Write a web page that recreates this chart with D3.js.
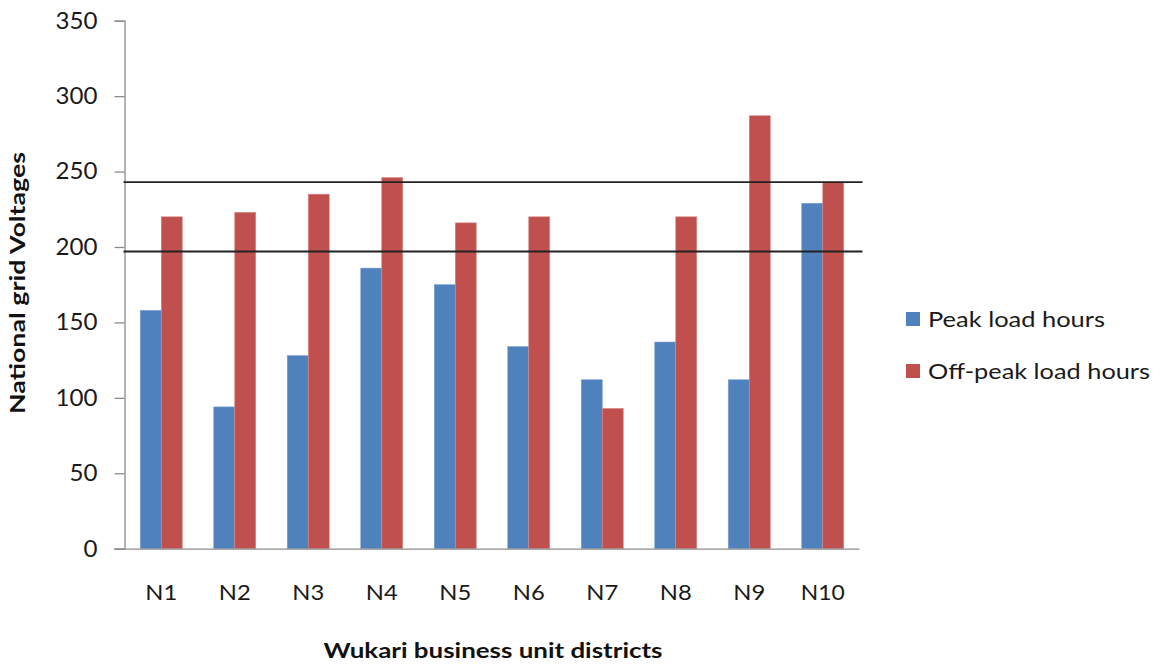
<!DOCTYPE html>
<html>
<head>
<meta charset="utf-8">
<script src="https://cdn.jsdelivr.net/npm/d3@7"></script>
<style>
  html, body { margin: 0; padding: 0; background: #fff; }
  svg { display: block; font-family: Lato, "Open Sans", sans-serif; }
</style>
</head>
<body>
<svg id="chart" width="1162" height="664"></svg>
<script>
// District categories and measured grid voltages
const districts = ["N1", "N2", "N3", "N4", "N5", "N6", "N7", "N8", "N9", "N10"];
const peakLoad = [158, 94, 128, 186, 175, 134, 112, 137, 112, 229];
const offPeakLoad = [220, 223, 235, 246, 216, 220, 93, 220, 287, 243];
const seriesNames = ["Peak load hours", "Off-peak load hours"];
const seriesColors = ["#4F81BD", "#C0504D"];
const yTicks = [0, 50, 100, 150, 200, 250, 300, 350];
// Upper and lower voltage limits drawn as horizontal lines
const limitLines = [243, 197];

const svg = d3.select("#chart");
const plot = { left: 124.5, right: 859.5, top: 20.7, bottom: 548.7 };

const x = d3.scaleBand().domain(districts).range([plot.left, plot.right]).paddingInner(0).paddingOuter(0);
const y = d3.scaleLinear().domain([0, 350]).range([plot.bottom, plot.top]);

// Bars: two per category, Excel-style gap width 150%
const barW = x.bandwidth() / 3.5;
const rows = districts.map((d, i) => ({ d, vals: [peakLoad[i], offPeakLoad[i]] }));

const groups = svg.append("g").selectAll("g").data(rows).join("g");
groups.selectAll("rect")
  .data(r => r.vals.map((v, s) => ({ d: r.d, v, s })))
  .join("rect")
  .attr("x", o => x(o.d) + x.bandwidth() / 2 - barW + o.s * barW)
  .attr("y", o => y(o.v))
  .attr("width", barW)
  .attr("height", o => y(0) - y(o.v))
  .attr("fill", o => seriesColors[o.s])
  .attr("stroke", o => o.s === 0 ? "#7FA3D3" : "#D88A88")
  .attr("stroke-width", 0.6);

// Y axis
const yAxis = d3.axisLeft(y).tickValues(yTicks).tickSize(10).tickPadding(17).tickFormat(d3.format("d"));
const gy = svg.append("g").attr("transform", `translate(${plot.left},0)`).call(yAxis);
gy.select(".domain").attr("stroke", "#8C8C8C").attr("stroke-width", 1.3);
gy.selectAll(".tick line").attr("stroke", "#8C8C8C").attr("stroke-width", 1.3);
gy.selectAll(".tick text").attr("fill", "#1a1a1a").style("font-size", "23px").style("font-family", "Lato, sans-serif")
  .attr("text-anchor", "end")
  .attr("textLength", d => String(d).length * 14).attr("lengthAdjust", "spacingAndGlyphs");

// X axis
const xAxis = d3.axisBottom(x).tickSize(0).tickPadding(36);
const gx = svg.append("g").attr("transform", `translate(0,${plot.bottom})`).call(xAxis);
gx.select(".domain").attr("stroke", "#8C8C8C").attr("stroke-width", 1.3).attr("d", `M${plot.left - 10},0.5H${plot.right}`);
gx.selectAll(".tick text").attr("fill", "#1a1a1a").style("font-size", "22px").style("font-family", "Lato, sans-serif")
  .attr("textLength", d => d.length === 2 ? 32 : 44).attr("lengthAdjust", "spacingAndGlyphs");

// Voltage limit lines
svg.append("g").selectAll("line").data(limitLines).join("line")
  .attr("x1", plot.left - 1).attr("x2", plot.right + 3)
  .attr("y1", d => y(d)).attr("y2", d => y(d))
  .attr("stroke", "#222").attr("stroke-width", 1.8);

// Axis titles
svg.append("text")
  .attr("x", 493).attr("y", 658)
  .attr("text-anchor", "middle")
  .attr("font-weight", "bold").attr("font-size", 20).attr("fill", "#111")
  .attr("textLength", 339).attr("lengthAdjust", "spacingAndGlyphs")
  .text("Wukari business unit districts");

svg.append("text")
  .attr("transform", "translate(25,283) rotate(-90)")
  .attr("text-anchor", "middle")
  .attr("font-weight", "bold").attr("font-size", 20).attr("fill", "#111")
  .attr("textLength", 262).attr("lengthAdjust", "spacingAndGlyphs")
  .text("National grid Voltages");

// Legend
const legend = svg.append("g").selectAll("g").data(seriesNames).join("g")
  .attr("transform", (d, i) => `translate(906,${312 + i * 52})`);
legend.append("rect").attr("width", 14).attr("height", 14).attr("fill", (d, i) => seriesColors[i]);
legend.append("text")
  .attr("x", 22).attr("y", 15)
  .attr("font-size", 22).attr("fill", "#1a1a1a")
  .attr("textLength", (d, i) => i === 0 ? 177 : 222).attr("lengthAdjust", "spacingAndGlyphs")
  .text(d => d);
</script>
</body>
</html>
